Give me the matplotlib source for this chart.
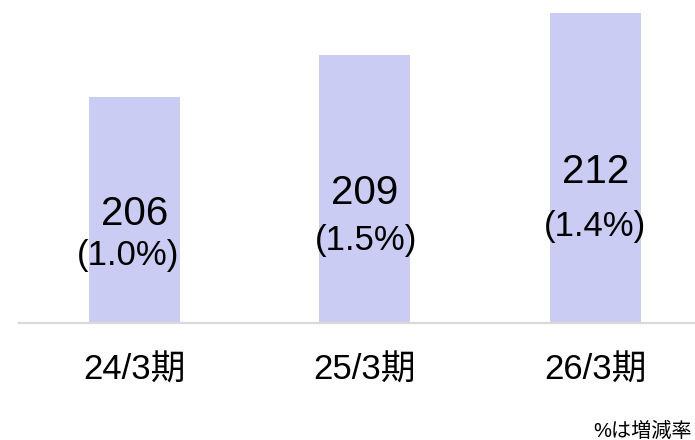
import matplotlib
matplotlib.use("Agg")
import matplotlib.pyplot as plt
import matplotlib.transforms as mtransforms

plt.rcParams['font.family'] = ['Liberation Sans', 'Noto Sans CJK JP', 'DejaVu Sans']

# data
categories = ["24/3期", "25/3期", "26/3期"]
values = [206, 209, 212]
growth = ["(1.0%)", "(1.5%)", "(1.4%)"]
footnote = "%は増減率"

# layout (label baselines in data units, horizontal nudges in category units)
num_label_y = [196.86, 198.36, 199.86]
pct_label_y = [194.0, 195.1, 196.1]
pct_label_dx = [-0.026, 0.004, -0.004]

fig = plt.figure(figsize=(6.95, 4.4), dpi=100)
ax = fig.add_axes([19 / 695, 117 / 440, 676 / 695, 310 / 440])

x = list(range(len(categories)))
ax.bar(x, values, width=0.395, color="#CBCCF4", zorder=2)
ax.set_xlim(-0.501, 2.432)
ax.set_ylim(189.86, 212)

for s in ["top", "right", "left"]:
    ax.spines[s].set_visible(False)
ax.spines["bottom"].set_color("#D9D9D9")
ax.spines["bottom"].set_linewidth(1.6)
ax.spines["bottom"].set_zorder(3)
ax.set_yticks([])
ax.set_xticks([])

for i, (v, g) in enumerate(zip(values, growth)):
    ax.text(i, num_label_y[i], str(v), ha="center", va="baseline", fontsize=29, color="black", zorder=4)
    ax.text(i + pct_label_dx[i], pct_label_y[i], g, ha="center", va="baseline", fontsize=25, color="black", zorder=4)

trans = mtransforms.blended_transform_factory(ax.transData, ax.transAxes)
for i, c in enumerate(categories):
    ax.text(i, -0.1839, c, transform=trans, ha="center", va="baseline", fontsize=25, color="black")

fig.text(692 / 695, 1 - 437 / 440, footnote, ha="right", va="baseline", fontsize=14.5, color="black")

fig.savefig("out.png", dpi=100)
